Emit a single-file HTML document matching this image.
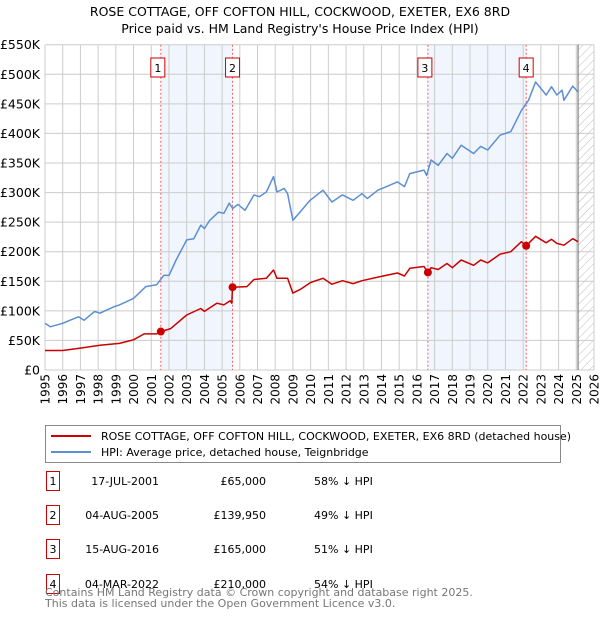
<!DOCTYPE html>
<html><head><meta charset="utf-8"><style>
body{margin:0;background:#fff;font-family:"Liberation Sans","DejaVu Sans",sans-serif;}
#wrap{position:relative;width:600px;height:620px;overflow:hidden;}
svg text{font-family:"DejaVu Sans","Liberation Sans",sans-serif;}
</style></head><body>
<div id="wrap">
<svg id="c" width="600" height="620"></svg>
</div>
<script>
const hpiYears=[1995.0,1995.3,1996.0,1996.4,1996.9,1997.2,1997.8,1998.1,1998.9,1999.2,2000.0,2000.7,2001.3,2001.7,2002.0,2002.4,2003.0,2003.4,2003.8,2004.0,2004.3,2004.8,2005.1,2005.4,2005.6,2005.9,2006.3,2006.8,2007.1,2007.5,2007.9,2008.1,2008.5,2008.7,2009.0,2009.4,2009.97,2010.7,2011.2,2011.8,2012.4,2012.9,2013.2,2013.8,2014.9,2015.3,2015.6,2016.4,2016.55,2016.8,2017.2,2017.7,2018.0,2018.5,2019.2,2019.6,2020.0,2020.7,2021.3,2021.9,2022.3,2022.7,2023.3,2023.6,2023.9,2024.2,2024.3,2024.8,2025.1];
const hpiValues=[79,73,79,84,90,84,99,96,107,110,121,141,144,160,160,186,220,222,245,239,253,267,265,282,273,280,270,296,293,301,327,301,307,298,253,267,287,304,284,296,287,298,290,304,318,310,332,338,329,355,346,366,358,380,366,378,372,397,403,439,456,487,465,479,465,473,456,480,470];
const redYears=[1995.0,1996,1997,1998.1,1999.2,2000,2000.6,2001.3,2001.54,2002.1,2003.0,2003.8,2004.0,2004.7,2005.1,2005.45,2005.55,2005.59,2006.4,2006.8,2007.5,2007.9,2008.1,2008.7,2009.0,2009.4,2010,2010.7,2011.2,2011.8,2012.4,2012.9,2013.8,2014.9,2015.3,2015.6,2016.4,2016.62,2016.8,2017.2,2017.7,2018.0,2018.5,2019.2,2019.6,2020.0,2020.7,2021.3,2021.9,2022.17,2022.7,2023.3,2023.6,2023.9,2024.3,2024.8,2025.1];
const redValues=[33,33,37,42,45,51,61,61,65,70,93,104,99,113,110,117,113,139.95,141,153,155,169,155,155,130,136,148,155,145,151,146,151,157,164,159,172,175,165,173,170,180,173,186,177,186,181,196,200,217,210,226,215,221,214,211,222,217];
const saleLabels=["1","2","3","4"];
const saleYears=[2001.54,2005.59,2016.62,2022.17];
const saleValues=[65,139.95,165,210];
const yTicks=[0,50,100,150,200,250,300,350,400,450,500,550];
const yTickLabels=["£0","£50K","£100K","£150K","£200K","£250K","£300K","£350K","£400K","£450K","£500K","£550K"];
const xTicks=[1995,1996,1997,1998,1999,2000,2001,2002,2003,2004,2005,2006,2007,2008,2009,2010,2011,2012,2013,2014,2015,2016,2017,2018,2019,2020,2021,2022,2023,2024,2025,2026];

const NS="http://www.w3.org/2000/svg";
const svg=document.getElementById('c');
const X0=45,X1=594,Y0=370,Y1=44.7;
const xs=y=>X0+(y-1995)/(2026-1995)*(X1-X0);
const ys=v=>Y0-v/550*(Y0-Y1);
function mk(tag,attrs,parent){const e=document.createElementNS(NS,tag);for(const k in attrs)e.setAttribute(k,attrs[k]);(parent||svg).appendChild(e);return e;}

let t=mk('text',{x:300,y:16,'text-anchor':'middle','font-size':12.5,fill:'#000'});t.textContent="ROSE COTTAGE, OFF COFTON HILL, COCKWOOD, EXETER, EX6 8RD";


t=mk('text',{x:300,y:33,'text-anchor':'middle','font-size':12.5,fill:'#000'});t.textContent="Price paid vs. HM Land Registry's House Price Index (HPI)";



for(let i=0;i<4;i+=2){const r=mk('rect',{x:xs(saleYears[i]),y:Y1,width:xs(saleYears[i+1])-xs(saleYears[i]),height:Y0-Y1,fill:'#eef3fc',opacity:0.8});

}

const defs=mk('defs',{});
const pat=mk('pattern',{id:'h',width:6,height:6,patternUnits:'userSpaceOnUse',patternTransform:'rotate(45)'},defs);
mk('line',{x1:0,y1:0,x2:0,y2:6,stroke:'#bbb','stroke-width':1},pat);
const hr=mk('rect',{x:xs(2025.1),y:Y1,width:X1-xs(2025.1),height:Y0-Y1,fill:'url(#h)'});



xTicks.forEach(yr=>{const l=mk('line',{x1:xs(yr),x2:xs(yr),y1:Y1,y2:Y0,stroke:'#cccccc','stroke-width':1});


const tx=mk('text',{transform:`translate(${xs(yr)+4.5},${Y0+4}) rotate(-90)`,'text-anchor':'end','font-size':12,fill:'#000'});tx.textContent=yr;

});
yTicks.forEach((v,i)=>{const l=mk('line',{x1:X0,x2:X1,y1:ys(v),y2:ys(v),stroke:'#cccccc','stroke-width':1});


const tx=mk('text',{x:40,y:ys(v)+4.5,'text-anchor':'end','font-size':12.5,fill:'#000'});tx.textContent=yTickLabels[i];

});
const vl=mk('line',{x1:xs(2025.1),x2:xs(2025.1),y1:Y1,y2:Y0,stroke:'#666','stroke-width':1});



saleYears.forEach((yr,i)=>{const l=mk('line',{x1:xs(yr),x2:xs(yr),y1:Y1,y2:Y0,stroke:'#f06060','stroke-width':1,'stroke-dasharray':'2,2'});


const bx=xs(yr)-7-(i%2==1?0:3);
const g=mk('g',{});


mk('rect',{x:bx,y:58,width:14,height:19,fill:'#fff',stroke:'#cc0000','stroke-width':1},g);
const tt=mk('text',{x:bx+7,y:72,'text-anchor':'middle','font-size':11,fill:'#000'},g);tt.textContent=saleLabels[i];});

function path(xsA,vsA,color,name){const d=xsA.map((y,i)=>(i?'L':'M')+xs(y).toFixed(1)+','+ys(vsA[i]).toFixed(1)).join('');
const p=mk('path',{d:d,fill:'none',stroke:color,'stroke-width':1.5,'stroke-linejoin':'round'});

}
path(hpiYears,hpiValues,'#5b8fd4','hpi-line');
path(redYears,redValues,'#cc0000','price-paid-line');
saleYears.forEach((yr,i)=>{const c=mk('circle',{cx:xs(yr),cy:ys(saleValues[i]),r:4,fill:'#cc0000'});

});

const lg=mk('g',{});


mk('rect',{x:45.5,y:425.5,width:515,height:37,fill:'#fff',stroke:'#888','stroke-width':1},lg);
mk('line',{x1:51,x2:91,y1:436,y2:436,stroke:'#cc0000','stroke-width':2},lg);
mk('line',{x1:51,x2:91,y1:452,y2:452,stroke:'#5b8fd4','stroke-width':2},lg);
t=mk('text',{x:101,y:440,'font-size':11,fill:'#000'},lg);t.textContent="ROSE COTTAGE, OFF COFTON HILL, COCKWOOD, EXETER, EX6 8RD (detached house)";


t=mk('text',{x:101,y:456,'font-size':11,fill:'#000'},lg);t.textContent="HPI: Average price, detached house, Teignbridge";



const dates=["17-JUL-2001","04-AUG-2005","15-AUG-2016","04-MAR-2022"];
const prices=["£65,000","£139,950","£165,000","£210,000"];
const pcts=["58% ↓ HPI","49% ↓ HPI","51% ↓ HPI","54% ↓ HPI"];
[481,515,549,584].forEach((ry,i)=>{const g=mk('g',{});


mk('rect',{x:46.5,y:ry-9.5,width:13,height:19,fill:'#fff',stroke:'#cc0000','stroke-width':1},g);
let a=mk('text',{x:53,y:ry+4,'text-anchor':'middle','font-size':11,fill:'#000'},g);a.textContent=saleLabels[i];
a=mk('text',{x:159,y:ry+4,'text-anchor':'end','font-size':11,fill:'#000'},g);a.textContent=dates[i];
a=mk('text',{x:266,y:ry+4,'text-anchor':'end','font-size':11,fill:'#000'},g);a.textContent=prices[i];
a=mk('text',{x:314,y:ry+4,'font-size':11,fill:'#000'},g);a.textContent=pcts[i];});

t=mk('text',{x:45,y:596,'font-size':11,fill:'#777'});t.textContent="Contains HM Land Registry data © Crown copyright and database right 2025.";


t=mk('text',{x:45,y:607,'font-size':11,fill:'#777'});t.textContent="This data is licensed under the Open Government Licence v3.0.";


</script>
</body></html>
